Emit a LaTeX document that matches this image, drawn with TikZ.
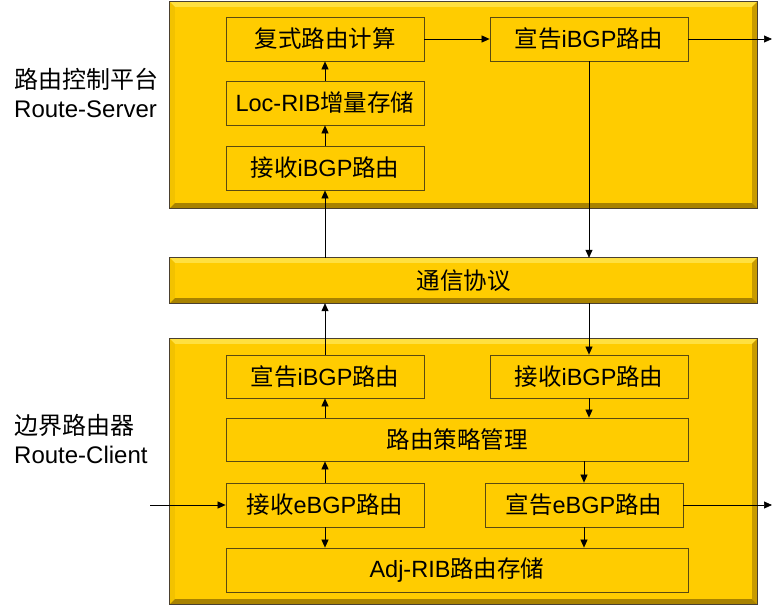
\documentclass[tikz,border=0pt]{standalone}
\usepackage{fontspec}
\setmainfont{Liberation Sans}
\newfontfamily\cjk{Noto Sans CJK SC}
\newcommand\zh[1]{{\cjk #1}}
\usetikzlibrary{arrows.meta}
\definecolor{gold}{HTML}{FFCC00}
\definecolor{goldtop}{HTML}{FFE040}
\definecolor{goldleft}{HTML}{F2C200}
\definecolor{goldright}{HTML}{C89B00}
\definecolor{goldbottom}{HTML}{A88200}
\definecolor{boxline}{HTML}{5A4A10}
\definecolor{frameline}{HTML}{4A4030}
\tikzset{
  panel/.style={fill=gold, draw=none, inner sep=0pt},
  stepbox/.style={draw=boxline, fill=gold, line width=0.8pt, inner sep=0pt,
    minimum width=198pt, minimum height=44pt, font=\fontsize{23.5}{28}\selectfont},
  widebox/.style={stepbox, minimum width=462pt},
  arr/.style={-{Triangle[length=8pt,width=7pt]}, line width=0.7pt, draw=black},
  sidelabel/.style={anchor=west, align=left, inner sep=0pt, font=\fontsize{24}{29}\selectfont}
}
% bevelled frame around a panel node
\newcommand\bevel[1]{%
  \fill[goldtop] (#1.north west) -- (#1.north east) -- ([shift={(-5,5)}]#1.north east) -- ([shift={(5,5)}]#1.north west) -- cycle;
  \fill[goldleft] (#1.north west) -- (#1.south west) -- ([shift={(5,-5)}]#1.south west) -- ([shift={(5,5)}]#1.north west) -- cycle;
  \fill[goldright] (#1.north east) -- (#1.south east) -- ([shift={(-5,-5)}]#1.south east) -- ([shift={(-5,5)}]#1.north east) -- cycle;
  \fill[goldbottom] (#1.south west) -- (#1.south east) -- ([shift={(-5,-5)}]#1.south east) -- ([shift={(5,-5)}]#1.south west) -- cycle;
  \draw[frameline, line width=1pt] (#1.north west) rectangle (#1.south east);
}
\begin{document}
\begin{tikzpicture}[x=1pt, y=-1pt]
\useasboundingbox (0,0) rectangle (774,606);

% panels
\node[panel, minimum width=587pt, minimum height=206pt] (server) at (463.5,105) {};
\bevel{server}
\node[panel, minimum width=587pt, minimum height=45pt] (comm) at (463.5,280.5) {};
\bevel{comm}
\node[inner sep=0pt, font=\fontsize{23.5}{28}\selectfont] (commtext) at (comm.center) {\zh{通信协议}};
\node[panel, minimum width=587pt, minimum height=265pt] (client) at (463.5,471.5) {};
\bevel{client}

% side labels
\node[sidelabel] (lblserver) at (14,92.5) {\zh{路由控制平台}\\Route-Server};
\node[sidelabel] (lblclient) at (14,439.5) {\zh{边界路由器}\\Route-Client};

% Route-Server steps
\node[stepbox] (calc) at (325,39) {\zh{复式路由计算}};
\node[stepbox] (locrib) at (325,103) {Loc-RIB\zh{增量存储}};
\node[stepbox] (recvi1) at (325,168) {\zh{接收}iBGP\zh{路由}};
\node[stepbox] (advi1) at (589,39) {\zh{宣告}iBGP\zh{路由}};

% Route-Client steps
\node[stepbox, minimum height=43pt] (advi2) at (325,376.5) {\zh{宣告}iBGP\zh{路由}};
\node[stepbox, minimum height=43pt] (recvi2) at (589,376.5) {\zh{接收}iBGP\zh{路由}};
\node[widebox, minimum height=43pt] (policy) at (457,439.5) {\zh{路由策略管理}};
\node[stepbox] (recve) at (325,505) {\zh{接收}eBGP\zh{路由}};
\node[stepbox] (adve) at (584,505) {\zh{宣告}eBGP\zh{路由}};
\node[widebox] (adj) at (457,570) {Adj-RIB\zh{路由存储}};

\coordinate (out1) at (772,39);
\coordinate (in2) at (150,505);
\coordinate (out2) at (772,505);

% connectors
\draw[arr] (recvi1.north) -- (locrib.south);
\draw[arr] (locrib.north) -- (calc.south);
\draw[arr] (calc.east) -- (advi1.west);
\draw[arr] (advi1.east) -- (out1);
\draw[arr] (advi1.south) -- (advi1.south |- comm.north);
\draw[arr] (comm.north -| recvi1.south) -- (recvi1.south);
\draw[arr] (advi2.north) -- (advi2.north |- comm.south);
\draw[arr] (comm.south -| recvi2.north) -- (recvi2.north);
\draw[arr] (recvi2.south) -- (recvi2.south |- policy.north);
\draw[arr] (advi2.south |- policy.north) -- (advi2.south);
\draw[arr] (recve.north) -- (recve.north |- policy.south);
\draw[arr] (policy.south -| adve.north) -- (adve.north);
\draw[arr] (recve.south) -- (recve.south |- adj.north);
\draw[arr] (adve.south) -- (adve.south |- adj.north);
\draw[arr] (in2) -- (recve.west);
\draw[arr] (adve.east) -- (out2);
\end{tikzpicture}
\end{document}
